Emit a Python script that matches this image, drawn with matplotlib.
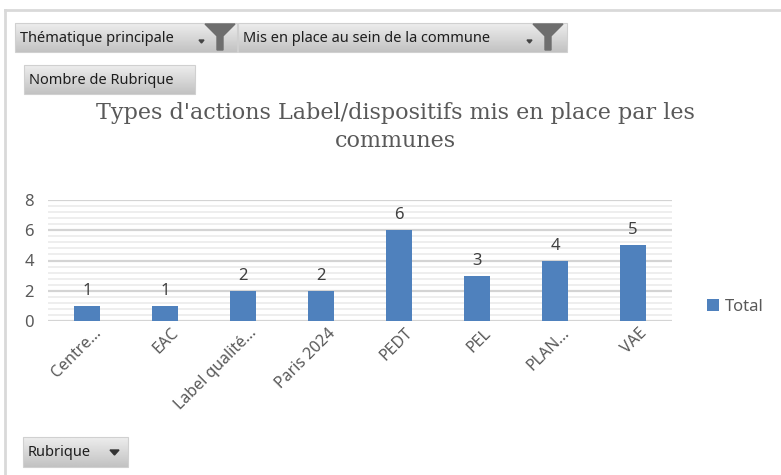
import numpy as np
import matplotlib
matplotlib.use("Agg")
import matplotlib.pyplot as plt
import matplotlib.transforms as mtransforms
from matplotlib.patches import Polygon, Rectangle
from matplotlib.ticker import MultipleLocator

# data
categories = ["Centre...", "EAC", "Label qualité...", "Paris 2024", "PEDT", "PEL", "PLAN...", "VAE"]
totals = [1, 1, 2, 2, 6, 3, 4, 5]
series_name = "Total"
title = "Types d'actions Label/dispositifs mis en place par les\ncommunes"

W, H = 781, 475
fig = plt.figure(figsize=(W / 100, H / 100), dpi=100)
fig.patch.set_facecolor("white")

# overlay axes in pixel coords for the pivot buttons and frame
ov = fig.add_axes([0, 0, 1, 1])
ov.set_xlim(0, W)
ov.set_ylim(H, 0)
ov.axis("off")

# outer frame
ov.plot([5, W], [10, 10], color="#d9d9d9", lw=2)
ov.plot([5, 5], [10, H], color="#d9d9d9", lw=2)

grad = np.linspace(0.93, 0.76, 50).reshape(-1, 1)


def button(x0, y0, x1, y1, label):
    ov.imshow(grad, extent=[x0, x1, y1, y0], cmap="gray", vmin=0, vmax=1,
              aspect="auto", zorder=2)
    ov.add_patch(Rectangle((x0, y0), x1 - x0, y1 - y0, fill=False,
                           ec="#d0d0d0", lw=0.8, zorder=3))
    ov.text(x0 + 5, (y0 + y1) / 2 + 1, label, fontsize=10.5, family="Noto Sans",
            color="#1e1e1e", va="center", ha="left", zorder=4)


def funnel(x0, y0):
    pts = [(x0, y0), (x0 + 30, y0), (x0 + 18, y0 + 12), (x0 + 18, y0 + 26),
           (x0 + 12, y0 + 26), (x0 + 12, y0 + 12)]
    ov.add_patch(Polygon(pts, closed=True, color="#6e6e6e", zorder=4))
    ov.add_patch(Polygon([(x0 - 6, y0 + 16), (x0 - 1, y0 + 16), (x0 - 3.5, y0 + 19)],
                         closed=True, color="#444444", zorder=4))


button(15, 23, 237, 52, "Thématique principale")
funnel(205, 24)
button(238, 23, 567, 52, "Mis en place au sein de la commune")
funnel(533, 24)
button(24, 65, 195, 94, "Nombre de Rubrique")
button(23, 437, 128, 467, "Rubrique")
ov.add_patch(Polygon([(110, 450), (119, 450), (114.5, 455)], closed=True,
                     color="#333333", zorder=4))
ov.set_xlim(0, W)
ov.set_ylim(H, 0)

# title
fig.text(395 / W, 1 - 127 / H, title, ha="center", va="center", fontsize=16,
         family="DejaVu Serif", color="#595959", linespacing=1.35)

# chart area
ax = fig.add_axes([48 / W, 1 - 321 / H, (672 - 48) / W, (321 - 200) / H])
x = np.arange(len(categories))
bars = ax.bar(x, totals, width=0.33, color="#4f81bd", label=series_name, zorder=3)
for xi, v in zip(x, totals):
    ax.annotate(str(v), (xi, v), xytext=(0, 5), textcoords="offset points",
                ha="center", va="bottom", fontsize=12, color="#404040",
                family="Noto Sans")

ax.set_xlim(-0.5, len(categories) - 0.5)
ax.set_ylim(0, 8)
ax.yaxis.set_major_locator(MultipleLocator(2))
ax.yaxis.set_minor_locator(MultipleLocator(0.4))
ax.grid(axis="y", which="major", color="#d4d4d4", lw=1.6, zorder=0)
ax.grid(axis="y", which="minor", color="#ededed", lw=1.3, zorder=0)
for s in ax.spines.values():
    s.set_visible(False)
ax.tick_params(axis="y", which="both", length=0, pad=10, labelsize=12,
               labelcolor="#595959")
ax.tick_params(axis="x", length=0, pad=3)
ax.set_xticks(x)
ax.set_xticklabels(categories, rotation=45, ha="right", va="top",
                   rotation_mode="anchor", fontsize=11.5, color="#595959",
                   family="Noto Sans")
shift = mtransforms.ScaledTranslation(6 / 100, 0, fig.dpi_scale_trans)
for lbl in ax.get_xticklabels():
    lbl.set_transform(lbl.get_transform() + shift)
for lbl in ax.get_yticklabels():
    lbl.set_family("Noto Sans")

leg = fig.legend(handles=[bars], labels=[series_name], loc="center left",
                 bbox_to_anchor=(692 / W, 1 - 307 / H), frameon=False,
                 handlelength=0.7, handleheight=0.7, handletextpad=0.35,
                 prop={"family": "Noto Sans", "size": 12})
for t in leg.get_texts():
    t.set_color("#595959")

fig.savefig("out.png", dpi=100)
